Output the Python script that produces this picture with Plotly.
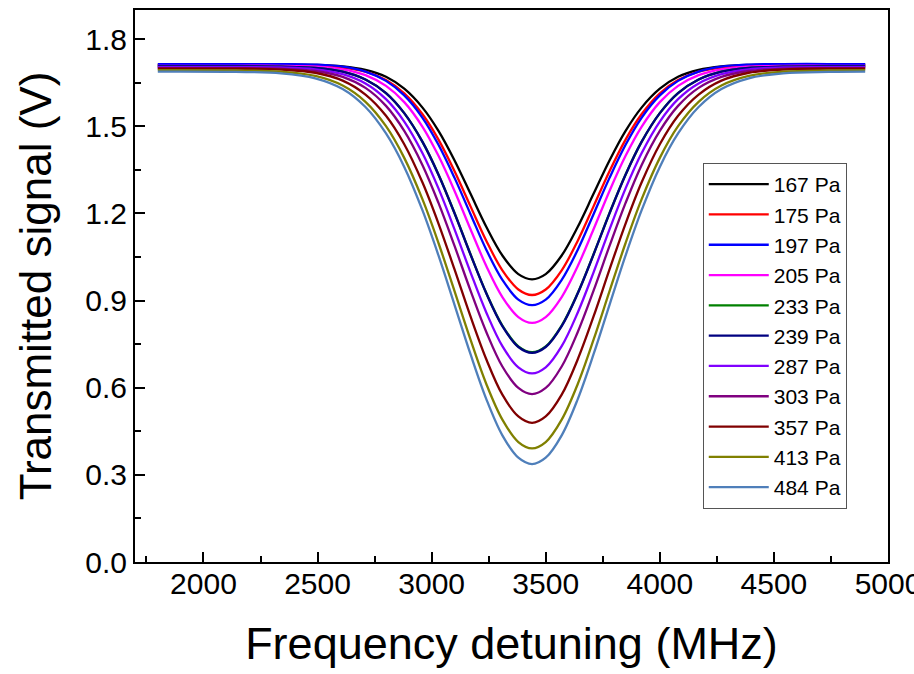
import plotly.graph_objects as go

# Frequency detuning sample points (MHz)
freq = [1800, 2140, 2340, 2490, 2610, 2710, 2800, 2880, 2960, 3030, 3100, 3170, 3240, 3310, 3380, 3440,
        3500, 3570, 3640, 3710, 3780, 3850, 3920, 4000, 4080, 4170, 4270, 4390, 4540, 4740, 4900]

# Transmitted signal (V)
p167 = [1.712, 1.712, 1.712, 1.711, 1.706, 1.694, 1.670, 1.629, 1.564, 1.484, 1.383, 1.268, 1.153, 1.055, 0.991, 0.973,
        0.991, 1.055, 1.153, 1.268, 1.383, 1.484, 1.564, 1.629, 1.670, 1.694, 1.706, 1.711, 1.712, 1.712, 1.712]
p175 = [1.710, 1.710, 1.710, 1.708, 1.702, 1.688, 1.659, 1.613, 1.541, 1.454, 1.346, 1.225, 1.105, 1.004, 0.938, 0.919,
        0.938, 1.004, 1.105, 1.225, 1.346, 1.454, 1.541, 1.613, 1.659, 1.688, 1.702, 1.708, 1.710, 1.710, 1.710]
p197 = [1.714, 1.714, 1.714, 1.712, 1.705, 1.688, 1.656, 1.606, 1.529, 1.436, 1.323, 1.198, 1.074, 0.971, 0.903, 0.884,
        0.903, 0.971, 1.074, 1.198, 1.323, 1.436, 1.529, 1.606, 1.656, 1.688, 1.705, 1.712, 1.714, 1.714, 1.714]
p205 = [1.708, 1.708, 1.708, 1.705, 1.696, 1.676, 1.639, 1.583, 1.498, 1.398, 1.278, 1.146, 1.018, 0.912, 0.843, 0.823,
        0.843, 0.912, 1.018, 1.146, 1.278, 1.398, 1.498, 1.583, 1.639, 1.676, 1.696, 1.705, 1.708, 1.708, 1.708]
p233 = [1.706, 1.706, 1.705, 1.701, 1.688, 1.661, 1.614, 1.545, 1.446, 1.334, 1.202, 1.060, 0.925, 0.814, 0.742, 0.722,
        0.742, 0.814, 0.925, 1.060, 1.202, 1.334, 1.446, 1.545, 1.614, 1.661, 1.688, 1.701, 1.705, 1.706, 1.706]
p239 = [1.706, 1.706, 1.705, 1.701, 1.688, 1.661, 1.614, 1.545, 1.446, 1.333, 1.201, 1.059, 0.924, 0.812, 0.740, 0.720,
        0.740, 0.812, 0.924, 1.059, 1.201, 1.333, 1.446, 1.545, 1.614, 1.661, 1.688, 1.701, 1.705, 1.706, 1.706]
p287 = [1.703, 1.703, 1.702, 1.696, 1.679, 1.647, 1.593, 1.516, 1.407, 1.286, 1.146, 0.998, 0.858, 0.743, 0.670, 0.649,
        0.670, 0.743, 0.858, 0.998, 1.146, 1.286, 1.407, 1.516, 1.593, 1.647, 1.679, 1.696, 1.702, 1.703, 1.703]
p303 = [1.700, 1.700, 1.698, 1.690, 1.670, 1.632, 1.570, 1.484, 1.366, 1.236, 1.089, 0.935, 0.791, 0.673, 0.599, 0.578,
        0.599, 0.673, 0.791, 0.935, 1.089, 1.236, 1.366, 1.484, 1.570, 1.632, 1.670, 1.690, 1.698, 1.700, 1.700]
p357 = [1.698, 1.698, 1.695, 1.684, 1.657, 1.609, 1.536, 1.438, 1.306, 1.165, 1.008, 0.846, 0.697, 0.576, 0.501, 0.479,
        0.501, 0.576, 0.697, 0.846, 1.008, 1.165, 1.306, 1.438, 1.536, 1.609, 1.657, 1.684, 1.695, 1.698, 1.698]
p413 = [1.693, 1.692, 1.688, 1.673, 1.640, 1.584, 1.500, 1.391, 1.248, 1.098, 0.933, 0.766, 0.612, 0.490, 0.413, 0.391,
        0.413, 0.490, 0.612, 0.766, 0.933, 1.098, 1.248, 1.391, 1.500, 1.584, 1.640, 1.673, 1.688, 1.692, 1.693]
p484 = [1.688, 1.687, 1.682, 1.665, 1.628, 1.566, 1.475, 1.360, 1.210, 1.055, 0.886, 0.716, 0.560, 0.436, 0.359, 0.337,
        0.359, 0.436, 0.560, 0.716, 0.886, 1.055, 1.210, 1.360, 1.475, 1.566, 1.628, 1.665, 1.682, 1.687, 1.688]

series_names = ["167 Pa", "175 Pa", "197 Pa", "205 Pa", "233 Pa", "239 Pa",
                "287 Pa", "303 Pa", "357 Pa", "413 Pa", "484 Pa"]
series_values = [p167, p175, p197, p205, p233, p239, p287, p303, p357, p413, p484]
colors = ["#000000", "#FF0000", "#0000FF", "#FF00FF", "#008000", "#000080",
          "#8000FF", "#800080", "#800000", "#808000", "#4F7FBA"]

x_ticks = [2000, 2500, 3000, 3500, 4000, 4500, 5000]
y_ticks = [0.0, 0.3, 0.6, 0.9, 1.2, 1.5, 1.8]

FONT = "Arial, Liberation Sans, sans-serif"

fig = go.Figure()
for name, vals, col in zip(series_names, series_values, colors):
    fig.add_trace(go.Scatter(
        x=freq, y=vals, mode="lines", name=name, legendgroup=name,
        line=dict(color=col, width=2.3, shape="spline", smoothing=1.0),
    ))

axis_common = dict(
    showline=True, linecolor="black", linewidth=2, mirror=True,
    ticks="inside", ticklen=10, tickwidth=2, tickcolor="black",
    showgrid=False, zeroline=False, automargin=False,
    tickfont=dict(family=FONT, size=30, color="black"),
    ticklabeloverflow="allow",
)

fig.update_layout(
    width=914, height=674, autosize=False,
    paper_bgcolor="white", plot_bgcolor="white",
    margin=dict(l=135, r=26, t=10, b=112),
    font=dict(family=FONT, color="black"),
    xaxis=dict(
        range=[1700, 5000], tickvals=x_ticks, ticktext=[str(v) for v in x_ticks],
        minor=dict(ticks="inside", ticklen=6, tickwidth=2, tickcolor="black", dtick=250, tick0=1750),
        title=dict(text="Frequency detuning (MHz)", font=dict(family=FONT, size=45), standoff=28),
        ticklabelstandoff=-6,
        **axis_common,
    ),
    yaxis=dict(
        range=[0.0, 1.9], tickvals=y_ticks, ticktext=[f"{v:.1f}" for v in y_ticks],
        minor=dict(ticks="inside", ticklen=6, tickwidth=2, tickcolor="black", dtick=0.15, tick0=0.15),
        title=dict(text="Transmitted signal (V)", font=dict(family=FONT, size=44), standoff=20),
        **axis_common,
    ),
    legend=dict(
        x=0.754, y=0.7228, xanchor="left", yanchor="top",
        bordercolor="#555555", borderwidth=1, bgcolor="white",
        font=dict(family=FONT, size=21, color="black"),
        tracegroupgap=0, itemwidth=60,
    ),
    showlegend=True,
)

fig.write_html("out.html", config={"displayModeBar": False})
with open("out.html", "r", encoding="utf-8") as fh:
    html = fh.read()
html = html.replace("<body>", "<body style=\"margin:0;padding:0;\">", 1)
with open("out.html", "w", encoding="utf-8") as fh:
    fh.write(html)
